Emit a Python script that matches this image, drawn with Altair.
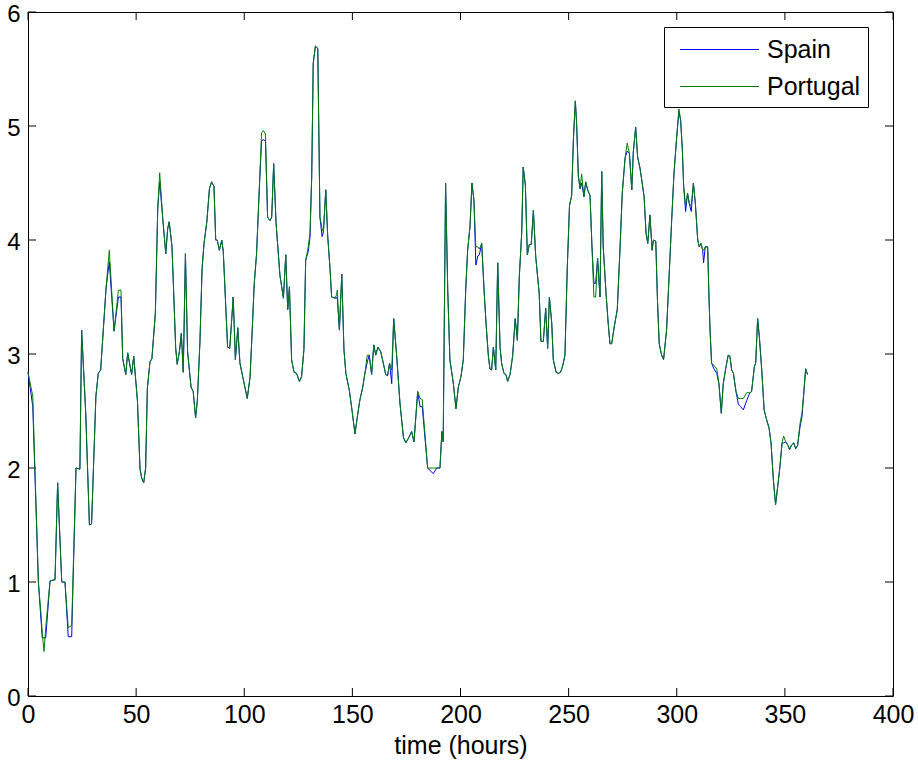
import altair as alt
import pandas as pd

hours = [0.0, 2.2, 4.8, 6.0, 6.6, 7.4, 8.2, 10.2, 12.5, 13.7, 15.6, 17.1, 18.6, 20.2, 22.2, 24.0, 24.8, 26.7, 28.4, 29.4,
         31.4, 32.5, 33.6, 36.1, 37.6, 39.8, 41.8, 43.0, 43.8, 45.2, 46.1, 47.9, 48.9, 50.6, 51.8, 52.6, 53.5, 54.4, 55.2, 56.4,
         57.3, 58.9, 60.0, 60.9, 62.3, 63.7, 64.6, 65.3, 66.6, 68.3, 69.0, 70.0, 70.9, 71.8, 72.8, 73.8, 75.4, 76.4, 77.5, 78.3,
         79.5, 80.5, 81.4, 82.7, 83.9, 84.9, 86.0, 86.8, 87.5, 88.5, 89.6, 90.3, 92.3, 93.3, 94.9, 95.9, 97.0, 98.0, 99.3, 100.3,
         101.4, 102.7, 103.9, 104.6, 105.7, 106.8, 108.0, 108.8, 109.8, 110.8, 111.9, 112.7, 113.6, 114.7, 116.5, 118.1, 119.2, 120.1, 120.9, 121.9,
         123.0, 124.2, 125.5, 126.5, 127.6, 128.4, 129.6, 130.4, 131.2, 131.9, 132.9, 134.0, 135.0, 136.0, 136.6, 137.7, 138.6, 139.7, 140.4, 142.0,
         142.7, 143.0, 144.0, 145.1, 146.1, 147.0, 148.6, 149.8, 151.2, 152.3, 153.5, 154.8, 155.8, 156.9, 157.8, 158.9, 159.9, 160.8, 161.8, 163.1,
         164.3, 165.4, 166.3, 167.2, 168.2, 169.1, 170.5, 172.0, 173.6, 174.7, 175.9, 177.4, 178.5, 180.2, 181.3, 182.3, 184.8, 187.4, 189.0, 190.5,
         191.4, 192.0, 193.1, 194.1, 195.1, 196.7, 197.9, 199.0, 200.2, 201.3, 202.4, 203.3, 204.4, 205.3, 206.2, 207.1, 208.0, 208.7, 209.8, 210.9,
         211.8, 212.9, 213.6, 214.4, 215.2, 216.3, 217.2, 218.3, 219.0, 220.1, 221.0, 221.8, 222.9, 224.1, 225.3, 226.3, 227.2, 228.3, 229.0, 230.0,
         230.9, 231.8, 232.7, 233.7, 234.8, 236.4, 237.2, 238.3, 239.4, 240.3, 241.1, 242.2, 242.9, 244.2, 245.2, 246.3, 247.3, 248.3, 249.4, 250.4,
         251.4, 252.2, 253.1, 253.7, 254.5, 255.3, 256.0, 257.1, 257.9, 258.8, 259.9, 260.8, 261.7, 262.5, 263.4, 264.5, 265.3, 266.0, 267.3, 268.3,
         269.1, 269.9, 271.1, 272.5, 273.8, 274.8, 276.1, 277.1, 278.1, 279.2, 279.9, 281.0, 281.9, 283.0, 283.8, 284.9, 285.8, 286.6, 287.6, 288.6,
         289.2, 290.3, 291.1, 291.9, 293.0, 293.9, 295.3, 296.6, 297.6, 298.7, 300.0, 301.0, 301.8, 302.6, 303.2, 304.1, 305.0, 305.8, 306.7, 307.7,
         308.6, 309.7, 310.4, 311.2, 312.0, 312.4, 313.2, 314.3, 314.9, 315.4, 316.1, 317.2, 318.5, 319.5, 320.6, 321.5, 322.8, 323.8, 324.6, 325.4,
         326.2, 327.4, 328.5, 329.5, 330.8, 332.3, 333.8, 334.6, 335.9, 336.5, 337.4, 338.2, 339.3, 340.4, 341.6, 342.7, 343.6, 344.7, 345.7, 346.7,
         347.7, 348.7, 349.4, 350.4, 351.4, 352.2, 353.0, 354.1, 355.0, 355.9, 357.0, 357.9, 358.8, 359.6, 360.5]

spain = [2.84, 2.54, 1.00, 0.67, 0.51, 0.51, 0.51, 1.01, 1.02, 1.87, 1.00, 1.00, 0.52, 0.52, 2.00, 1.99, 3.21, 2.48, 1.50, 1.51,
         2.63, 2.83, 2.86, 3.58, 3.81, 3.20, 3.50, 3.50, 2.96, 2.82, 3.01, 2.82, 2.98, 2.59, 1.99, 1.91, 1.87, 2.00, 2.70, 2.93,
         2.96, 3.36, 4.28, 4.51, 4.19, 3.88, 4.10, 4.16, 3.94, 3.05, 2.91, 3.02, 3.18, 2.84, 3.88, 3.02, 2.71, 2.67, 2.44, 2.59,
         3.10, 3.75, 3.97, 4.16, 4.45, 4.51, 4.47, 4.00, 4.00, 3.91, 4.00, 3.90, 3.06, 3.05, 3.50, 2.95, 3.23, 2.92, 2.80, 2.71,
         2.61, 2.80, 3.30, 3.61, 3.88, 4.38, 4.87, 4.88, 4.87, 4.20, 4.17, 4.20, 4.67, 4.15, 3.69, 3.49, 3.87, 3.39, 3.59, 2.95,
         2.84, 2.83, 2.76, 2.80, 3.04, 3.82, 3.90, 4.02, 4.56, 5.55, 5.70, 5.68, 4.20, 4.03, 4.07, 4.44, 4.03, 3.74, 3.50, 3.49,
         3.49, 3.50, 3.21, 3.70, 3.04, 2.83, 2.68, 2.51, 2.30, 2.45, 2.60, 2.71, 2.83, 2.93, 2.99, 2.82, 3.08, 2.99, 3.06, 3.02,
         2.92, 2.82, 2.81, 2.92, 2.74, 3.31, 2.98, 2.57, 2.27, 2.22, 2.26, 2.32, 2.23, 2.67, 2.54, 2.54, 2.00, 1.95, 2.00, 2.00,
         2.32, 2.23, 4.50, 3.56, 2.95, 2.74, 2.52, 2.71, 2.80, 2.95, 3.56, 3.91, 4.12, 4.50, 4.35, 3.78, 3.86, 3.87, 3.97, 3.56,
         3.27, 2.98, 2.87, 2.86, 3.06, 2.86, 3.80, 3.06, 2.92, 2.83, 2.82, 2.76, 2.82, 2.98, 3.31, 3.12, 3.68, 4.06, 4.64, 4.48,
         3.87, 3.96, 3.96, 4.26, 3.85, 3.53, 3.11, 3.11, 3.40, 3.05, 3.50, 3.27, 2.95, 2.84, 2.83, 2.84, 2.90, 2.99, 3.77, 4.30,
         4.39, 4.88, 5.22, 5.02, 4.56, 4.45, 4.50, 4.38, 4.51, 4.44, 4.39, 3.94, 3.62, 3.62, 3.84, 3.50, 4.60, 3.94, 3.53, 3.27,
         3.09, 3.09, 3.24, 3.39, 3.94, 4.41, 4.72, 4.78, 4.76, 4.44, 4.77, 4.99, 4.73, 4.63, 4.53, 4.38, 4.06, 3.97, 4.22, 3.91,
         4.00, 3.99, 3.46, 3.09, 2.99, 2.95, 3.21, 3.74, 4.15, 4.58, 4.91, 5.13, 5.05, 4.79, 4.47, 4.25, 4.41, 4.32, 4.25, 4.50,
         4.32, 4.00, 3.94, 3.97, 3.91, 3.80, 3.94, 3.94, 3.50, 3.21, 2.92, 2.87, 2.83, 2.74, 2.48, 2.74, 2.89, 2.99, 2.98, 2.86,
         2.83, 2.67, 2.56, 2.54, 2.51, 2.59, 2.66, 2.67, 2.89, 2.92, 3.31, 3.15, 2.86, 2.51, 2.42, 2.35, 2.22, 1.89, 1.68, 1.84,
         2.01, 2.22, 2.22, 2.23, 2.20, 2.16, 2.20, 2.22, 2.17, 2.20, 2.36, 2.45, 2.66, 2.87, 2.82]

portugal = [2.84, 2.63, 1.00, 0.72, 0.55, 0.39, 0.60, 1.01, 1.02, 1.87, 1.00, 1.00, 0.60, 0.62, 2.00, 1.99, 3.21, 2.48, 1.50, 1.51,
            2.63, 2.83, 2.86, 3.58, 3.91, 3.20, 3.56, 3.56, 2.96, 2.82, 3.01, 2.82, 2.98, 2.59, 1.99, 1.91, 1.87, 2.00, 2.70, 2.93,
            2.96, 3.36, 4.28, 4.59, 4.19, 3.88, 4.10, 4.16, 3.94, 3.05, 2.91, 3.02, 3.18, 2.84, 3.88, 3.02, 2.71, 2.67, 2.44, 2.59,
            3.10, 3.75, 3.97, 4.16, 4.45, 4.51, 4.47, 4.00, 4.00, 3.91, 4.00, 3.90, 3.06, 3.05, 3.50, 2.95, 3.23, 2.92, 2.80, 2.71,
            2.61, 2.80, 3.30, 3.61, 3.88, 4.38, 4.94, 4.96, 4.93, 4.20, 4.17, 4.20, 4.67, 4.15, 3.69, 3.49, 3.87, 3.39, 3.59, 2.95,
            2.84, 2.83, 2.76, 2.80, 3.04, 3.82, 3.94, 4.06, 4.56, 5.55, 5.70, 5.68, 4.20, 4.10, 4.07, 4.44, 4.03, 3.74, 3.50, 3.49,
            3.52, 3.56, 3.21, 3.70, 3.04, 2.83, 2.68, 2.51, 2.30, 2.45, 2.60, 2.71, 2.83, 2.99, 2.99, 2.82, 3.08, 2.99, 3.06, 3.02,
            2.92, 2.82, 2.81, 2.92, 2.86, 3.31, 2.98, 2.57, 2.27, 2.22, 2.26, 2.32, 2.23, 2.67, 2.61, 2.60, 2.00, 2.00, 2.00, 2.00,
            2.32, 2.23, 4.50, 3.56, 2.95, 2.74, 2.52, 2.71, 2.80, 2.95, 3.56, 3.91, 4.12, 4.50, 4.35, 3.94, 3.94, 3.92, 3.97, 3.56,
            3.27, 2.98, 2.87, 2.86, 3.06, 2.86, 3.80, 3.06, 2.92, 2.83, 2.82, 2.76, 2.82, 2.98, 3.31, 3.12, 3.68, 4.06, 4.64, 4.48,
            3.87, 3.96, 3.96, 4.26, 3.85, 3.53, 3.11, 3.11, 3.40, 3.05, 3.50, 3.27, 2.95, 2.84, 2.83, 2.84, 2.90, 2.99, 3.77, 4.30,
            4.39, 4.88, 5.22, 5.02, 4.56, 4.45, 4.58, 4.38, 4.51, 4.44, 4.39, 3.94, 3.50, 3.50, 3.84, 3.50, 4.60, 3.94, 3.53, 3.27,
            3.09, 3.09, 3.24, 3.39, 3.94, 4.41, 4.72, 4.85, 4.76, 4.44, 4.77, 4.99, 4.73, 4.63, 4.53, 4.38, 4.06, 3.97, 4.22, 3.91,
            4.00, 3.99, 3.46, 3.09, 2.99, 2.95, 3.21, 3.74, 4.15, 4.58, 4.91, 5.15, 5.05, 4.79, 4.47, 4.30, 4.41, 4.32, 4.30, 4.50,
            4.32, 4.00, 3.94, 3.97, 3.91, 3.91, 3.94, 3.94, 3.50, 3.21, 2.92, 2.90, 2.87, 2.74, 2.48, 2.74, 2.89, 2.99, 2.98, 2.86,
            2.83, 2.67, 2.61, 2.61, 2.61, 2.66, 2.66, 2.67, 2.89, 2.92, 3.31, 3.15, 2.86, 2.51, 2.42, 2.35, 2.22, 1.89, 1.68, 1.84,
            2.01, 2.22, 2.28, 2.23, 2.20, 2.16, 2.20, 2.22, 2.17, 2.20, 2.39, 2.48, 2.68, 2.87, 2.82]

series_names = ["Spain", "Portugal"]
series_colors = ["#0000ff", "#008000"]
x_ticks = [0, 50, 100, 150, 200, 250, 300, 350, 400]
y_ticks = [0, 1, 2, 3, 4, 5, 6]

W, H = 865, 684
FONT = "Liberation Sans"
FS = 25

df_spain = pd.DataFrame({"hour": hours, "value": spain, "series": "Spain"})
df_port = pd.DataFrame({"hour": hours, "value": portugal, "series": "Portugal"})
df_xt = pd.DataFrame({"hour": x_ticks})
df_yt = pd.DataFrame({"value": y_ticks})

xscale = alt.Scale(domain=[0, 400], nice=False, zero=False)
yscale = alt.Scale(domain=[0, 6], nice=False, zero=False)

xaxis = alt.Axis(values=x_ticks, title="time (hours)", grid=False, domain=False, ticks=False,
                 labelFont=FONT, labelFontSize=FS, labelColor="black", labelPadding=6,
                 titleFont=FONT, titleFontSize=FS, titleFontWeight="normal", titleColor="black",
                 titlePadding=6, labelFlush=False)
yaxis = alt.Axis(values=y_ticks, title=None, grid=False, domain=False, ticks=False,
                 labelFont=FONT, labelFontSize=24, labelColor="black", labelPadding=8,
                 labelOffset=2, labelFlush=False)

color = alt.Color("series:N", scale=alt.Scale(domain=series_names, range=series_colors),
                  legend=alt.Legend(title=None, orient="none", legendX=636, legendY=15,
                                    symbolType="M-2.63,0L2.63,0", symbolSize=900, symbolStrokeWidth=1,
                                    symbolOffset=33, labelOffset=32,
                                    labelFont=FONT, labelFontSize=FS, labelColor="black",
                                    strokeColor="black", fillColor="white", padding=7, rowPadding=8))

X = alt.X("hour:Q", scale=xscale, axis=xaxis)
Y = alt.Y("value:Q", scale=yscale, axis=yaxis)

line_s = alt.Chart(df_spain).mark_line(strokeWidth=1).encode(x=X, y=Y, color=color)
line_p = alt.Chart(df_port).mark_line(strokeWidth=1).encode(x=X, y=Y, color=color)

tick_len = 8
xt_bottom = alt.Chart(df_xt).mark_rule(color="black", strokeWidth=1).encode(
    x=X, y=alt.value(H), y2=alt.value(H - tick_len))
xt_top = alt.Chart(df_xt).mark_rule(color="black", strokeWidth=1).encode(
    x=X, y=alt.value(0), y2=alt.value(tick_len))
yt_left = alt.Chart(df_yt).mark_rule(color="black", strokeWidth=1).encode(
    y=Y, x=alt.value(0), x2=alt.value(tick_len))
yt_right = alt.Chart(df_yt).mark_rule(color="black", strokeWidth=1).encode(
    y=Y, x=alt.value(W), x2=alt.value(W - tick_len))

chart = alt.layer(xt_bottom, xt_top, yt_left, yt_right, line_s, line_p).properties(
    width=W, height=H,
    autosize=alt.AutoSizeParams(type="none"),
    padding={"left": 28, "top": 12, "right": 25, "bottom": 69},
    background="white",
).configure_view(stroke="black", strokeWidth=1)

chart.save("out.html", embed_options={"renderer": "svg", "actions": False})
